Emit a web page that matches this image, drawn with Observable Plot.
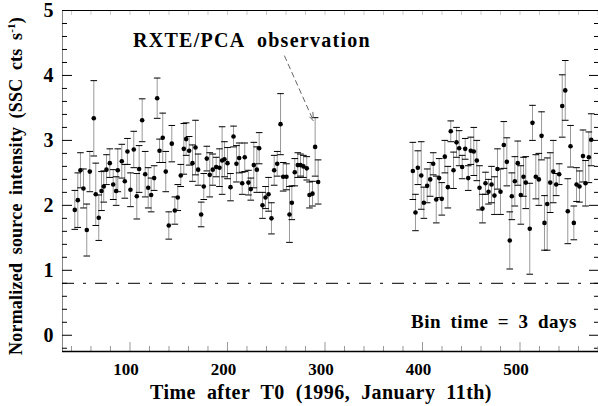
<!DOCTYPE html>
<html>
<head>
<meta charset="utf-8">
<script src="https://cdn.jsdelivr.net/npm/d3@7"></script>
<script src="https://cdn.jsdelivr.net/npm/@observablehq/plot@0.6"></script>
<style>
  html, body { margin: 0; padding: 0; background: #fff; }
  #chart svg { display: block; }
</style>
</head>
<body>
<div id="chart"></div>
<script>
// Time after T0 (days)
const times = [
  43.4, 46.5, 49.2, 52.3, 55.7, 58.8, 62.9, 64.9, 68.0, 70.8,
  73.1, 75.9, 79.3, 82.8, 85.8, 87.5, 91.6, 94.7, 97.4, 100.5,
  103.9, 107.0, 109.4, 112.5, 115.6, 118.7, 121.7, 124.8, 127.9, 130.3,
  133.6, 136.7, 139.8, 142.9, 146.0, 149.0, 152.1, 155.2, 157.6, 160.7,
  164.1, 167.2, 169.9, 173.0, 175.7, 178.8, 181.8, 184.9, 188.4, 191.8,
  194.5, 196.9, 200.0, 203.1, 206.2, 209.2, 212.0, 215.1, 217.7, 221.5,
  223.9, 227.0, 230.1, 232.5, 235.9, 239.0, 242.1, 245.1, 247.9, 251.0,
  254.4, 257.1, 260.5, 263.6, 266.0, 269.0, 272.1, 274.9, 277.9, 281.3,
  284.1, 287.2, 289.9, 293.0,
  390.1, 392.8, 395.2, 398.7, 401.4, 404.8, 407.9, 411.0, 414.1, 417.1,
  419.8, 422.9, 426.0, 429.0, 431.8, 434.9, 437.6, 440.7, 443.8, 446.9,
  449.5, 452.6, 455.7, 458.5, 461.5, 464.6, 467.7, 470.8, 473.8, 476.9,
  480.0, 483.4, 486.5, 489.5, 491.6, 494.7, 497.7, 500.8, 503.6, 505.9,
  510.0, 512.8, 516.2, 519.3, 522.1, 525.1, 527.9, 531.0, 534.1, 537.1,
  540.2, 543.3, 546.4, 549.0, 551.8, 555.2, 558.0, 561.0, 564.6, 567.2,
  570.6, 573.0
];
// Normalized source intensity
const rates = [
  1.93, 2.08, 2.54, 2.26, 1.62, 2.52, 3.34, 2.17, 1.81, 2.22,
  2.29, 2.55, 2.65, 2.32, 2.22, 2.54, 2.68, 2.37, 2.83, 2.24,
  2.86, 2.14, 2.56, 3.31, 2.48, 2.27, 2.16, 2.42, 3.65, 2.84,
  3.04, 2.52, 1.69, 2.95, 1.92, 2.12, 2.46, 2.87, 3.02, 2.84,
  2.65, 2.89, 2.55, 1.86, 2.29, 2.72, 2.47, 2.55, 2.59, 2.58,
  2.69, 2.71, 2.65, 2.28, 3.06, 2.64, 2.73, 2.34, 2.74, 2.35,
  2.25, 2.62, 2.55, 2.88, 2.00, 2.12, 2.17, 1.80, 2.54, 2.64,
  3.25, 2.44, 2.44, 1.86, 2.04, 2.51, 2.62, 2.62, 2.60, 2.57,
  2.16, 2.18, 2.90, 2.36,
  2.53, 1.89, 2.58, 2.46, 2.04, 2.30, 2.40, 2.64, 2.09, 2.42,
  2.10, 2.75, 2.28, 3.14, 2.54, 2.97, 2.88, 2.59, 2.87, 2.42,
  2.84, 2.83, 2.69, 2.27, 1.95, 2.34, 2.21, 2.32, 2.15, 2.56,
  2.21, 2.93, 2.67, 1.46, 2.14, 2.37, 2.65, 2.16, 2.44, 2.35,
  1.64, 3.27, 2.44, 2.40, 3.07, 1.73, 2.02, 2.35, 2.52, 2.32,
  2.48, 3.53, 3.77, 1.91, 2.91, 1.73, 2.32, 2.29, 2.76, 2.34,
  2.74, 3.01
];
// 1-sigma errors
const errors = [
  0.30, 0.42, 0.27, 0.30, 0.40, 0.31, 0.58, 0.48, 0.35, 0.30,
  0.24, 0.23, 0.22, 0.23, 0.22, 0.33, 0.26, 0.26, 0.20, 0.26,
  0.28, 0.35, 0.36, 0.33, 0.35, 0.31, 0.26, 0.19, 0.31, 0.18,
  0.38, 0.31, 0.21, 0.28, 0.21, 0.20, 0.17, 0.39, 0.25, 0.22,
  0.28, 0.42, 0.24, 0.19, 0.20, 0.19, 0.34, 0.24, 0.15, 0.29,
  0.52, 0.27, 0.24, 0.21, 0.16, 0.28, 0.23, 0.17, 0.22, 0.19,
  0.17, 0.35, 0.35, 0.24, 0.20, 0.17, 0.26, 0.24, 0.23, 0.19,
  0.47, 0.22, 0.20, 0.43, 0.26, 0.21, 0.19, 0.17, 0.17, 0.18,
  0.20, 0.19, 0.45, 0.34,
  0.44, 0.28, 0.26, 0.52, 0.24, 0.26, 0.26, 0.17, 0.36, 0.30,
  0.25, 0.25, 0.32, 0.16, 0.28, 0.23, 0.27, 0.18, 0.16, 0.19,
  0.21, 0.37, 0.31, 0.34, 0.22, 0.17, 0.19, 0.28, 0.29, 0.31,
  0.35, 0.36, 0.37, 0.44, 0.36, 0.38, 0.34, 0.45, 0.30, 0.40,
  0.70, 0.27, 0.34, 0.40, 0.37, 0.42, 0.71, 0.46, 0.48, 0.17,
  0.16, 0.48, 0.46, 0.50, 0.32, 0.26, 0.26, 0.24, 0.40, 0.35,
  0.39, 0.40
];
const xDomain = [30.8, 580.5];
const yDomain = [-0.25, 5];
const xMajorTicks = [100, 200, 300, 400, 500];
const xMinorTicks = [40, 60, 80, 120, 140, 160, 180, 220, 240, 260, 280, 320, 340, 360, 380, 420, 440, 460, 480, 520, 540, 560, 580];
const yMajorTicks = [0, 1, 2, 3, 4, 5];
const yMinorTicks = [-0.2, 0.2, 0.4, 0.6, 0.8, 1.2, 1.4, 1.6, 1.8, 2.2, 2.4, 2.6, 2.8, 3.2, 3.4, 3.6, 3.8, 4.2, 4.4, 4.6, 4.8];
const thresholdLevel = [0.8];
const arrowStart = {t: 258.5, v: 4.3};
const arrowEnd = {t: 288.2, v: 3.3};
const annotationText = "RXTE/PCA observation";
const binText = "Bin time = 3 days";
const xTitle = "Time after T0 (1996, January 11th)";

const data = times.map((t, i) => ({t, v: rates[i], e: errors[i]}));

const capSymbol = {
  draw(ctx, size) {
    const r = Math.sqrt(size / Math.PI);
    ctx.moveTo(-r, 0);
    ctx.lineTo(r, 0);
  }
};

const serif = "'Liberation Serif', 'Times New Roman', serif";

const chart = Plot.plot({
  width: 598,
  height: 406,
  marginLeft: 62,
  marginRight: 0,
  marginTop: 10,
  marginBottom: 55,
  style: {fontFamily: serif, fontWeight: "bold", background: "#fff"},
  x: {domain: xDomain, label: null},
  y: {domain: yDomain, label: null},
  marks: [
    // frame
    Plot.ruleX([xDomain[0]], {stroke: "#888", strokeWidth: 1}),
    Plot.ruleY([yDomain[1]], {stroke: "#000", strokeWidth: 1}),
    // dash-dot background level
    Plot.ruleY(thresholdLevel, {stroke: "#000", strokeWidth: 1, strokeDasharray: "12,9,3,9"}),
    // left axis
    Plot.axisY({ticks: yMajorTicks, tickSize: 10, dx: 10, text: null, stroke: "#000"}),
    Plot.axisY({ticks: yMinorTicks, tickSize: 5, dx: 5, text: null, stroke: "#000"}),
    Plot.axisY({ticks: yMajorTicks, tickSize: 0, tickPadding: 9, tickFormat: d3.format("d"), fontSize: 20, fontWeight: "bold", fontFamily: serif}),
    // right axis
    Plot.axisY({anchor: "right", ticks: yMajorTicks, tickSize: 10, dx: -10, text: null, stroke: "#000"}),
    Plot.axisY({anchor: "right", ticks: yMinorTicks, tickSize: 5, dx: -5, text: null, stroke: "#000"}),
    // bottom axis
    Plot.axisX({ticks: xMajorTicks, tickSize: 9, dy: -9, text: null, stroke: "#999"}),
    Plot.axisX({ticks: xMinorTicks, tickSize: 5, dy: -5, text: null, stroke: "#999"}),
    Plot.axisX({ticks: xMajorTicks, tickSize: 0, tickPadding: 11, dx: -4, tickFormat: d3.format("d"), fontSize: 17, fontWeight: "bold", fontFamily: serif}),
    // top axis
    Plot.axisX({anchor: "top", ticks: xMinorTicks.concat(xMajorTicks), tickSize: 4, dy: 4, text: null, stroke: "#ccc"}),
    // error bars
    Plot.ruleX(data, {x: "t", y1: d => d.v - d.e, y2: d => d.v + d.e, stroke: "#999", strokeWidth: 1}),
    Plot.dot(data, {x: "t", y: d => d.v + d.e, symbol: capSymbol, r: 3.3, stroke: "#000", strokeWidth: 1, fill: "none"}),
    Plot.dot(data, {x: "t", y: d => d.v - d.e, symbol: capSymbol, r: 3.3, stroke: "#000", strokeWidth: 1, fill: "none"}),
    Plot.dot(data, {x: "t", y: "v", r: 2.3, fill: "#000", stroke: "none"}),
    // annotation arrow
    Plot.arrow([{x1: arrowStart.t, y1: arrowStart.v, x2: arrowEnd.t, y2: arrowEnd.v}], {
      x1: "x1", y1: "y1", x2: "x2", y2: "y2", stroke: "#666", strokeWidth: 1,
      strokeDasharray: "5,4", headLength: 13, headAngle: 40, bend: 0
    }),
    // bottom axis line (drawn last)
    Plot.ruleY([yDomain[0]], {stroke: "#000", strokeWidth: 1.5})
  ]
});

document.getElementById("chart").appendChild(chart);
const svg = d3.select(chart);

// spread the text to the wanted length: part between letters, part between words
function fitText(sel, str, length, letterShare) {
  const natural = sel.node().getComputedTextLength();
  const extra = length - natural;
  if (extra <= 0) return;
  const nChars = str.length;
  const spaces = (str.match(/ /g) || []).length;
  const ls = extra * letterShare / nChars;
  const ws = spaces ? (extra - ls * nChars) / spaces : 0;
  sel.attr("letter-spacing", ls.toFixed(2)).attr("word-spacing", ws.toFixed(2));
}
function addText(str, x, y, size, anchor, length, letterShare) {
  const t = svg.append("text")
    .attr("x", x).attr("y", y)
    .attr("text-anchor", anchor)
    .attr("font-family", serif).attr("font-weight", "bold").attr("font-size", size)
    .attr("fill", "#000")
    .text(str);
  fitText(t, str, length, letterShare);
  return t;
}
// annotation texts
addText(annotationText, 133, 47, 20, "start", 238, 0.8);
addText(binText, 577, 328, 19, "end", 166, 0.35);
// x-axis title
addText(xTitle, 321, 399, 20, "middle", 342, 0.35);
// y-axis title with superscript
const yTitleMain = "Normalized source intensity (SSC cts s";
const yt = svg.append("text")
  .attr("transform", "translate(22,186) rotate(-90)")
  .attr("text-anchor", "middle")
  .attr("font-family", serif).attr("font-weight", "bold").attr("font-size", 18);
yt.append("tspan").text(yTitleMain);
yt.append("tspan").attr("font-size", 11).attr("dy", -7).text("-1");
yt.append("tspan").attr("dy", 7).text(")");
fitText(yt, yTitleMain + "-1)", 338, 0.35);
</script>
</body>
</html>
